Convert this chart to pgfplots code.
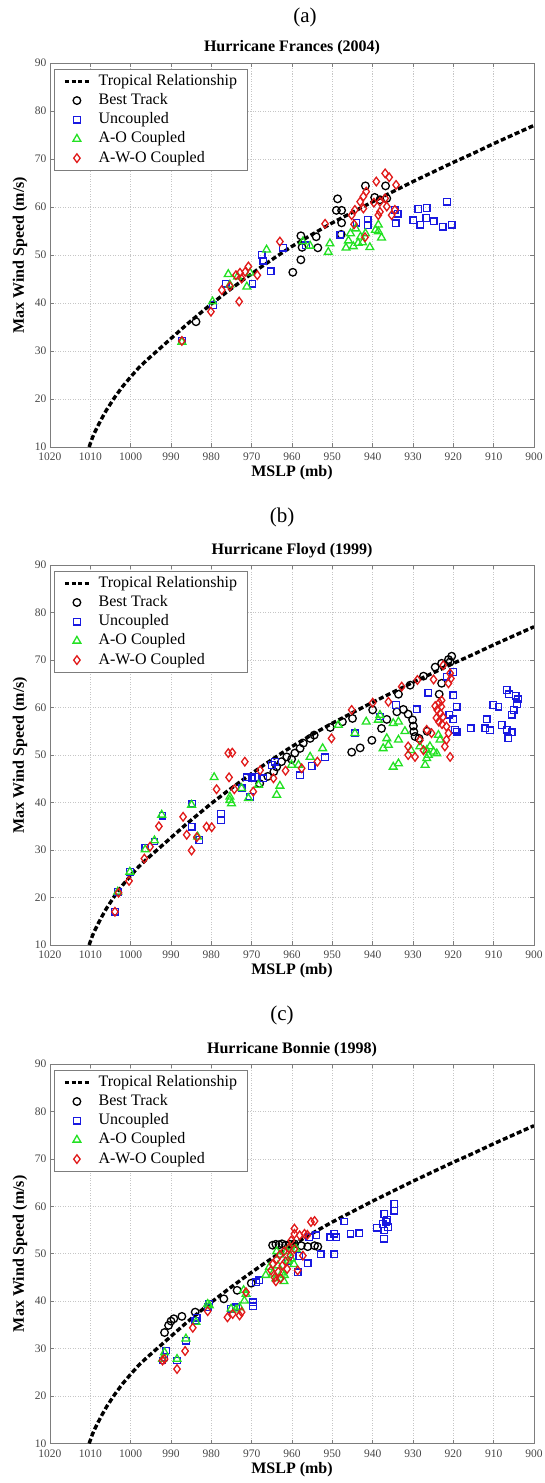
\documentclass[border=0pt]{standalone}
\usepackage{fontspec}
\setmainfont{Liberation Serif}
\usepackage{pgfplots}
\pgfplotsset{compat=1.18}
\usepackage{pgfplotstable}

\definecolor{mblue}{RGB}{25,25,225}
\definecolor{mgreen}{RGB}{35,225,35}
\definecolor{mred}{RGB}{225,25,25}
\definecolor{framegray}{RGB}{125,125,125}
\definecolor{tickgray}{RGB}{70,70,70}

\pgfplotstableread{
p v
1010.3 10.0
1009.5 11.9
1009.0 12.9
1008.0 14.6
1007.0 16.2
1006.0 17.7
1005.0 19.0
1004.0 20.3
1002.0 22.6
1000.0 24.6
998.0 26.5
996.0 28.1
994.0 29.6
992.0 31.1
990.0 32.6
988.0 34.1
986.0 35.6
984.0 37.0
982.0 38.4
980.0 39.8
976.0 42.4
972.0 44.9
968.0 47.3
964.0 49.6
960.0 51.8
955.0 54.3
950.0 56.7
945.0 58.9
940.0 61.1
935.0 63.2
930.0 65.3
925.0 67.3
920.0 69.3
915.0 71.2
910.0 73.2
905.0 75.1
900.0 77.0
}\TabTrop

% ---------------- Panel (a) Frances ----------------
\pgfplotstableread{
p v
983.8 36.1
959.8 46.4
957.8 49.0
957.8 54.0
957.5 51.6
954.0 53.8
953.6 51.5
949.0 59.3
947.7 59.3
948.7 61.7
947.7 56.7
947.8 54.3
941.8 64.4
936.8 64.4
939.5 62.0
938.2 61.5
936.5 61.8
}\TabFrBT
\pgfplotstableread{
p v
987.3 32.1
979.6 39.6
976.4 44.0
969.8 44.0
967.5 50.0
967.1 48.8
965.3 46.6
962.2 51.5
956.5 52.0
948.0 54.2
944.0 56.7
941.2 57.4
941.2 56.2
934.5 59.4
933.8 58.6
934.3 56.6
928.7 59.6
926.6 59.8
929.9 57.2
928.2 56.3
926.7 57.7
924.9 57.0
922.6 55.9
921.6 61.1
920.4 56.3
}\TabFrUC
\pgfplotstableread{
p v
987.3 31.9
979.7 40.3
975.8 46.0
975.4 43.8
973.5 45.5
971.2 43.4
970.4 46.3
966.3 51.1
957.3 52.8
955.5 51.9
950.6 52.4
951.0 50.6
946.0 53.0
945.5 54.5
944.8 51.8
944.2 55.5
943.6 52.5
943.0 53.8
942.5 52.6
941.8 54.5
946.6 51.5
940.7 51.6
938.6 56.3
938.6 54.9
937.8 53.6
939.3 55.2
}\TabFrAO
\pgfplotstableread{
p v
987.3 32.1
980.1 38.2
977.4 42.7
975.4 43.5
973.9 45.8
973.1 40.3
972.5 45.1
971.6 46.5
970.8 47.6
972.9 46.3
968.6 45.8
963.0 52.8
951.8 56.5
945.2 58.3
944.4 59.4
943.1 61.1
942.3 62.2
941.6 63.2
942.3 59.7
941.9 53.7
939.1 65.3
936.9 67.0
935.9 66.2
934.2 64.6
939.7 60.9
938.2 61.1
936.9 61.8
936.5 60.1
938.2 59.0
938.6 58.3
935.3 58.3
934.5 59.4
944.6 56.4
}\TabFrAWO

% ---------------- Panel (b) Floyd ----------------
\pgfplotstableread{
p v
968.0 44.0
966.0 45.5
964.5 46.5
963.8 47.5
962.6 48.6
961.3 49.6
960.1 49.1
959.3 50.4
958.0 51.4
957.2 52.5
955.5 53.5
954.5 54.2
950.5 55.8
947.5 57.0
945.0 57.7
940.0 59.5
945.2 50.6
943.1 51.5
940.2 53.1
937.8 55.6
936.5 57.5
934.0 59.1
933.6 62.8
932.4 59.6
931.2 58.6
930.7 64.7
930.1 57.4
929.9 56.1
929.8 54.9
929.5 53.9
928.5 53.5
927.4 66.6
926.5 55.0
924.5 68.5
923.5 62.8
922.9 65.1
922.9 69.3
921.2 70.1
920.4 70.8
920.8 69.6
}\TabFlBT
\pgfplotstableread{
p v
1003.9 17.0
1003.2 21.2
1000.2 25.4
996.4 30.4
994.1 31.8
992.1 37.2
984.7 39.8
984.9 34.9
983.0 32.1
977.6 37.6
977.6 36.3
972.5 43.0
971.2 45.3
970.0 45.1
969.2 45.4
970.4 41.2
967.1 45.1
965.0 47.9
964.2 48.6
958.0 45.7
955.1 47.7
951.8 49.5
944.4 54.6
938.2 58.1
934.2 60.5
929.1 59.6
926.2 63.1
921.7 66.5
920.0 67.5
920.0 62.6
919.2 60.2
920.0 57.5
921.0 58.5
919.6 55.3
919.2 54.9
915.7 55.6
912.1 55.6
911.7 57.5
910.9 55.2
910.1 60.5
908.8 60.2
908.0 56.3
906.8 63.7
906.2 62.8
906.8 55.3
906.4 53.5
905.5 54.8
904.5 62.5
904.0 61.7
904.2 60.7
905.0 59.5
905.5 58.5
}\TabFlUC
\pgfplotstableread{
p v
1003.2 21.2
1000.2 25.4
996.4 30.1
994.1 32.0
992.3 37.4
984.9 39.5
983.4 32.8
979.3 45.3
975.4 40.5
975.4 41.2
975.0 39.8
972.5 43.0
970.8 40.9
968.3 43.7
963.0 43.5
963.8 41.6
960.1 47.9
958.4 47.9
955.5 49.6
952.4 51.4
948.5 56.3
944.4 54.6
941.6 57.0
938.6 57.4
938.2 58.4
934.9 56.7
933.6 57.0
936.5 53.5
937.4 51.4
936.1 52.1
933.6 53.2
934.9 47.5
933.6 48.2
928.3 51.8
926.6 51.0
925.8 51.8
924.9 50.7
926.2 50.0
924.1 50.3
927.0 47.9
926.6 49.3
923.7 54.2
923.3 53.2
930.5 51.0
932.0 55.0
}\TabFlAO
\pgfplotstableread{
p v
1003.9 17.0
1003.0 21.0
1000.4 23.5
996.6 28.2
995.2 30.7
993.0 35.0
987.0 37.0
986.1 33.2
984.9 29.9
983.6 32.7
981.2 34.9
979.9 34.8
978.7 42.8
975.8 50.4
974.8 50.5
971.7 48.6
975.6 45.3
974.3 42.8
969.6 42.3
967.9 46.8
964.6 45.1
961.6 46.7
957.6 47.2
953.7 48.6
950.2 53.5
945.2 59.5
940.0 61.0
936.1 61.2
932.8 64.4
928.9 65.8
924.9 65.9
922.5 68.9
920.8 67.2
920.6 66.1
921.2 65.1
923.5 61.0
923.0 60.2
924.0 59.5
923.2 58.8
922.6 58.0
924.2 57.8
923.6 57.0
922.8 56.5
924.5 60.3
922.9 61.5
926.6 55.3
925.4 54.6
928.3 53.1
927.4 51.0
931.2 50.0
929.5 49.6
931.2 51.8
921.7 56.0
921.2 54.6
921.7 53.2
922.1 51.8
920.8 49.6
}\TabFlAWO

% ---------------- Panel (c) Bonnie ----------------
\pgfplotstableread{
p v
991.6 33.4
990.6 34.9
990.0 35.8
989.3 36.3
987.3 36.8
984.0 37.7
976.9 40.5
973.6 42.3
970.1 43.8
964.8 51.8
964.0 52.0
963.2 51.9
962.5 52.1
961.6 51.8
960.5 52.0
959.4 52.1
957.7 51.7
956.1 51.5
954.4 51.7
953.6 51.5
}\TabBoBT
\pgfplotstableread{
p v
992.1 27.5
991.6 28.2
991.2 29.6
988.5 27.5
986.3 31.7
984.0 35.9
983.6 36.5
980.9 38.7
980.5 39.4
975.1 38.4
973.9 38.7
969.7 39.8
969.7 38.9
968.9 44.0
968.1 44.4
961.0 48.5
958.2 49.5
958.6 46.1
956.1 48.0
952.9 49.9
949.5 49.9
955.7 53.5
954.0 53.9
950.5 53.5
949.5 54.2
949.1 53.5
947.0 56.8
945.5 54.2
943.3 54.3
938.9 55.5
937.5 56.3
936.6 56.7
936.2 55.6
937.1 54.9
937.2 53.2
936.4 57.2
934.6 60.5
934.6 59.1
937.1 58.4
}\TabBoUC
\pgfplotstableread{
p v
992.1 27.8
991.6 29.2
988.5 27.8
986.3 32.1
983.8 35.6
980.9 39.4
980.5 39.1
975.1 38.4
973.9 38.2
973.0 38.7
971.8 40.1
971.4 41.5
972.0 42.3
965.6 47.2
964.8 45.8
964.0 44.8
963.5 47.5
963.0 49.8
962.5 46.0
961.9 45.5
961.5 50.5
961.0 48.5
960.5 51.5
960.2 49.0
959.5 47.8
959.0 51.0
962.0 44.2
963.8 50.5
966.5 45.5
}\TabBoAO
\pgfplotstableread{
p v
992.1 27.5
991.6 27.8
988.5 25.7
986.5 29.5
984.6 34.4
980.9 37.9
976.0 36.6
974.7 37.3
973.0 37.0
972.5 37.7
971.4 41.9
965.2 46.5
964.8 47.8
964.3 45.0
964.0 44.2
963.8 48.8
963.4 46.2
963.0 49.8
962.8 44.8
962.4 47.5
962.0 50.5
961.6 48.4
961.2 46.8
960.8 51.2
960.4 49.6
960.2 52.8
959.4 54.2
959.4 55.3
958.1 53.9
956.9 54.2
957.3 49.6
958.6 46.5
959.4 51.0
956.2 54.0
955.3 56.7
954.4 56.9
}\TabBoAWO

\pgfplotsset{
  mleg/.style={legend image code/.code={%
      \path (0pt,0pt) (31pt,0pt);
      \draw[##1] plot coordinates {(19pt,0pt)};}},
  hurr/.style={
    scale only axis, width=484pt,
    xmin=900, xmax=1020, ymin=10, ymax=90, x dir=reverse,
    xtick={900,910,...,1020}, ytick={10,20,...,90},
    tick align=inside, major tick length=4pt,
    axis line style={framegray, line width=0.8pt},
    tick style={framegray, line width=0.6pt},
    grid=major,
    major grid style={gray!45, line width=0.6pt, dash pattern=on 1pt off 1.5pt},
    tick label style={font=\fontsize{11.5}{12}\selectfont, text=tickgray},
    xticklabel style={yshift=-2.5pt},
    /pgf/number format/assume math mode=true,
    /pgf/number format/1000 sep={},
    xlabel={MSLP (mb)}, ylabel={Max Wind Speed (m/s)},
    every axis x label/.style={at={(axis description cs:0.5,-0.068)}, anchor=center,
      font=\bfseries\fontsize{16}{18}\selectfont},
    every axis y label/.style={at={(axis description cs:-0.062,0.5)}, rotate=90, anchor=center,
      font=\bfseries\fontsize{16}{18}\selectfont},
    every axis title/.style={at={(axis description cs:0.5,1.039)}, anchor=center,
      font=\bfseries\fontsize{16}{18}\selectfont},
    legend cell align=left,
    legend style={at={(axis description cs:0.0083,0.984)}, anchor=north west,
      draw=framegray, fill=white, inner xsep=2pt, inner ysep=4pt, row sep=3.2pt,
      font=\fontsize{16}{19}\selectfont,
      nodes={inner xsep=8pt, inner ysep=0pt, text height=12pt, text depth=4pt}},
  },
  trop/.style={black, line width=3.4pt, dash pattern=on 5pt off 2.6pt,
    legend image code/.code={%
      \path (0pt,0pt) (31pt,0pt);
      \draw[##1, dash pattern=on 4.2pt off 2.4pt] (7pt,0pt) -- (31pt,0pt);}},
  sbt/.style={only marks, mark=o, mark size=3.8pt, color=black, line width=1.3pt, mleg},
  suc/.style={only marks, mark=square, mark size=3.3pt, color=mblue, line width=1.3pt, mleg},
  sao/.style={only marks, mark=triangle, mark size=4.5pt, color=mgreen, line width=1.3pt, mleg},
  sawo/.style={only marks, mark=diamond, mark size=4.3pt, color=mred, line width=1.3pt, mleg},
}

\begin{document}
\begin{tikzpicture}
\useasboundingbox (0pt,0pt) rectangle (545pt,-1483pt);

\node[font=\fontsize{21}{24}\selectfont] at (305pt,-17pt) {(a)};
\node[font=\fontsize{21}{24}\selectfont] at (282pt,-517pt) {(b)};
\node[font=\fontsize{21}{24}\selectfont] at (282pt,-1015.5pt) {(c)};

\begin{axis}[hurr, height=384pt, at={(50pt,-447pt)}, anchor=south west,
  title={Hurricane Frances (2004)}]
\addplot[trop] table {\TabTrop};
\addlegendentry{Tropical Relationship}
\addplot[sbt] table {\TabFrBT};
\addlegendentry{Best Track}
\addplot[suc] table {\TabFrUC};
\addlegendentry{Uncoupled}
\addplot[sao] table {\TabFrAO};
\addlegendentry{A-O Coupled}
\addplot[sawo] table {\TabFrAWO};
\addlegendentry{A-W-O Coupled}
\end{axis}

\begin{axis}[hurr, height=380pt, at={(50pt,-945pt)}, anchor=south west,
  title={Hurricane Floyd (1999)}]
\addplot[trop] table {\TabTrop};
\addlegendentry{Tropical Relationship}
\addplot[sbt] table {\TabFlBT};
\addlegendentry{Best Track}
\addplot[suc] table {\TabFlUC};
\addlegendentry{Uncoupled}
\addplot[sao] table {\TabFlAO};
\addlegendentry{A-O Coupled}
\addplot[sawo] table {\TabFlAWO};
\addlegendentry{A-W-O Coupled}
\end{axis}

\begin{axis}[hurr, height=379.5pt, at={(50pt,-1443.5pt)}, anchor=south west,
  title={Hurricane Bonnie (1998)}]
\addplot[trop] table {\TabTrop};
\addlegendentry{Tropical Relationship}
\addplot[sbt] table {\TabBoBT};
\addlegendentry{Best Track}
\addplot[suc] table {\TabBoUC};
\addlegendentry{Uncoupled}
\addplot[sao] table {\TabBoAO};
\addlegendentry{A-O Coupled}
\addplot[sawo] table {\TabBoAWO};
\addlegendentry{A-W-O Coupled}
\end{axis}
\end{tikzpicture}
\end{document}
